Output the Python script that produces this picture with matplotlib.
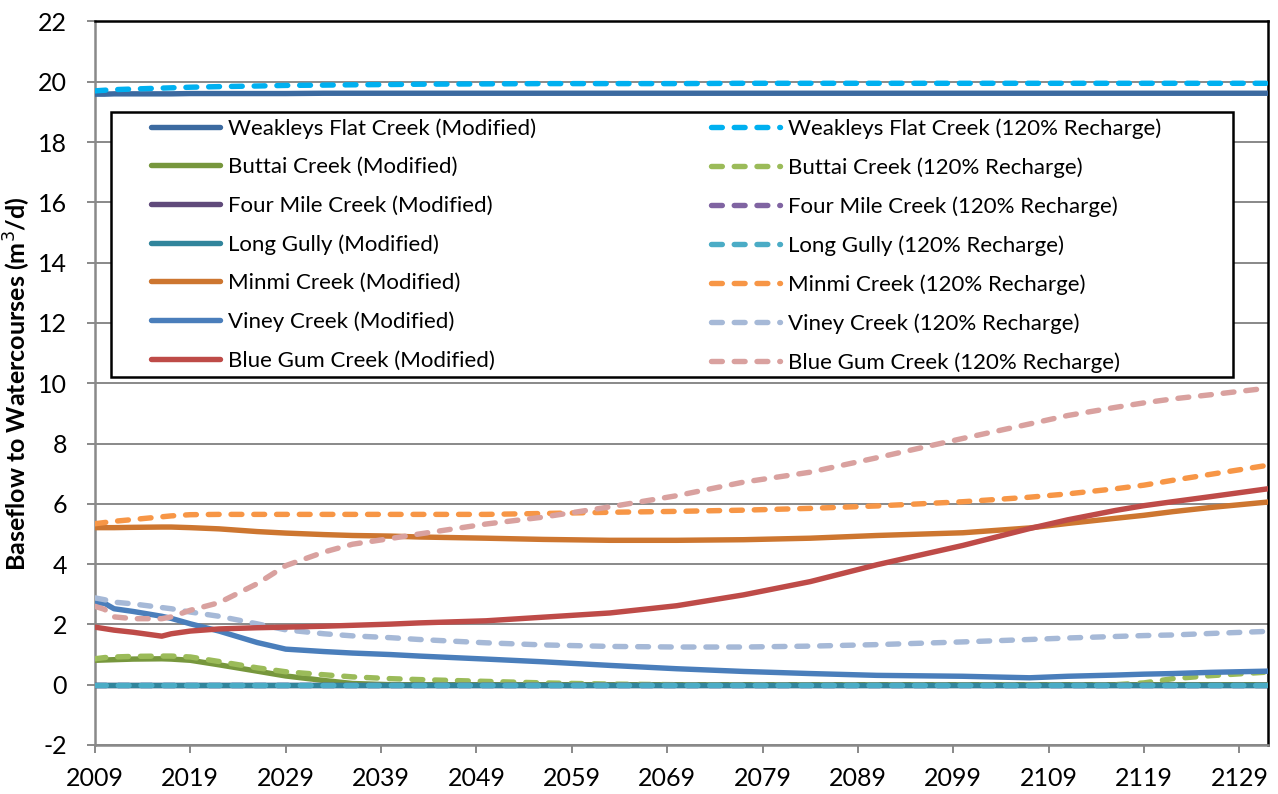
import matplotlib
matplotlib.use("Agg")
import matplotlib.pyplot as plt
from matplotlib.patches import Rectangle

plt.rcParams['font.family'] = ['Lato', 'DejaVu Sans']
plt.rcParams['axes.unicode_minus'] = False

years = [2009, 2010, 2011, 2013, 2016, 2017, 2019, 2022, 2026, 2029, 2033, 2036,
         2040, 2043, 2050, 2056, 2063, 2070, 2077, 2084, 2091, 2100, 2107, 2111,
         2116, 2119, 2122, 2126, 2132]

weakleys_mod = [19.59, 19.59, 19.60, 19.60, 19.60, 19.60, 19.61, 19.61, 19.61, 19.61,
                19.62, 19.62, 19.62, 19.62, 19.62, 19.62, 19.62, 19.62, 19.62, 19.62,
                19.62, 19.62, 19.62, 19.62, 19.62, 19.62, 19.62, 19.62, 19.62]
weakleys_120 = [19.70, 19.72, 19.74, 19.76, 19.79, 19.80, 19.82, 19.84, 19.86, 19.88,
                19.89, 19.90, 19.91, 19.92, 19.93, 19.94, 19.94, 19.94, 19.95, 19.95,
                19.95, 19.95, 19.95, 19.95, 19.95, 19.95, 19.95, 19.95, 19.95]
buttai_mod = [0.81, 0.82, 0.83, 0.85, 0.86, 0.85, 0.81, 0.66, 0.45, 0.29, 0.14, 0.04,
              0.0, 0.0, 0.0, 0.0, 0.0, 0.0, 0.0, 0.0, 0.0, 0.0, 0.0, 0.0,
              0.0, 0.0, 0.0, 0.0, 0.0]
buttai_120 = [0.86, 0.90, 0.92, 0.94, 0.95, 0.95, 0.92, 0.77, 0.56, 0.43, 0.33, 0.26,
              0.20, 0.17, 0.11, 0.06, 0.02, 0.0, 0.0, 0.0, 0.0, 0.0, 0.0, 0.0,
              0.0, 0.06, 0.20, 0.30, 0.42]
fourmile_mod = [0.0] * 29
fourmile_120 = [0.0] * 29
longgully_mod = [0.0] * 29
longgully_120 = [0.0] * 29
minmi_mod = [5.21, 5.21, 5.21, 5.22, 5.23, 5.23, 5.21, 5.17, 5.08, 5.03, 4.98, 4.95,
             4.93, 4.90, 4.86, 4.82, 4.79, 4.79, 4.81, 4.86, 4.95, 5.04, 5.20, 5.35,
             5.52, 5.62, 5.74, 5.88, 6.06]
minmi_120 = [5.34, 5.38, 5.42, 5.48, 5.57, 5.60, 5.64, 5.65, 5.65, 5.65, 5.65, 5.65,
             5.65, 5.65, 5.65, 5.68, 5.72, 5.75, 5.79, 5.85, 5.93, 6.07, 6.22, 6.33,
             6.50, 6.62, 6.78, 6.98, 7.28]
viney_mod = [2.72, 2.70, 2.52, 2.43, 2.27, 2.20, 2.02, 1.78, 1.40, 1.18, 1.10, 1.05,
             1.00, 0.95, 0.85, 0.76, 0.64, 0.53, 0.44, 0.37, 0.31, 0.28, 0.23, 0.28,
             0.32, 0.35, 0.37, 0.41, 0.45]
viney_120 = [2.88, 2.82, 2.74, 2.68, 2.56, 2.52, 2.41, 2.27, 2.02, 1.82, 1.69, 1.62,
             1.56, 1.50, 1.39, 1.32, 1.27, 1.25, 1.25, 1.28, 1.33, 1.42, 1.50, 1.55,
             1.60, 1.63, 1.65, 1.70, 1.77]
bluegum_mod = [1.91, 1.86, 1.81, 1.74, 1.61, 1.69, 1.78, 1.85, 1.89, 1.91, 1.94, 1.97,
               2.01, 2.05, 2.12, 2.24, 2.38, 2.62, 2.98, 3.42, 3.98, 4.62, 5.18, 5.47,
               5.78, 5.94, 6.07, 6.24, 6.50]
bluegum_120 = [2.60, 2.50, 2.25, 2.19, 2.19, 2.25, 2.47, 2.72, 3.35, 3.95, 4.40, 4.66,
               4.85, 5.00, 5.33, 5.56, 5.90, 6.27, 6.72, 7.05, 7.53, 8.17, 8.65, 8.93,
               9.20, 9.35, 9.48, 9.62, 9.84]

creeks = ["Weakleys Flat Creek", "Buttai Creek", "Four Mile Creek", "Long Gully",
          "Minmi Creek", "Viney Creek", "Blue Gum Creek"]
modified = [weakleys_mod, buttai_mod, fourmile_mod, longgully_mod,
            minmi_mod, viney_mod, bluegum_mod]
recharge = [weakleys_120, buttai_120, fourmile_120, longgully_120,
            minmi_120, viney_120, bluegum_120]
mod_colors = ["#3C6AA0", "#77973D", "#604A7B", "#31859C", "#CD7630", "#4A7EBB", "#BE4B48"]
rch_colors = ["#00B0F0", "#9BBB59", "#8064A2", "#4BACC6", "#F79646", "#A6B9D7", "#D9A19F"]

W, H = 1278, 794
fig = plt.figure(figsize=(W / 100, H / 100), dpi=100)
ax = fig.add_axes([95 / W, 1 - 745 / H, (1268 - 95) / W, (745 - 21.5) / H])

lw = 3.9
mod_handles, rch_handles = [], []
for name, m, r, cm, cr in zip(creeks, modified, recharge, mod_colors, rch_colors):
    h1, = ax.plot(years, m, color=cm, lw=lw, solid_capstyle='round',
                  solid_joinstyle='round', label=f"{name} (Modified)", zorder=3)
    h2, = ax.plot(years, r, color=cr, lw=lw, dashes=(2.0, 2.2),
                  dash_capstyle='round', dash_joinstyle='round',
                  label=f"{name} (120% Recharge)", zorder=3)
    mod_handles.append(h1)
    rch_handles.append(h2)

ax.set_xlim(2009, 2132)
ax.set_ylim(-2, 22)
ax.set_yticks(range(-2, 23, 2))
ax.set_xticks(range(2009, 2130, 10))
ax.grid(axis='y', color='#898989', lw=1.4, zorder=0)
ax.set_axisbelow(True)

for side in ('top', 'right'):
    ax.spines[side].set_color('black')
    ax.spines[side].set_linewidth(1.8)
for side in ('left', 'bottom'):
    ax.spines[side].set_color('#898989')
    ax.spines[side].set_linewidth(1.8)

ax.tick_params(axis='both', colors='#898989', width=1.4, labelcolor='black',
               labelsize=18, direction='out')
ax.tick_params(axis='y', length=6, pad=14)
ax.tick_params(axis='x', length=6, pad=10)

ax.set_ylabel("Baseflow to Watercourses (m$^3$/d)", fontsize=18, fontweight='bold')
ax.yaxis.set_label_coords((33 - 95) / (1268 - 95), 0.5)

# legend frame drawn as a figure-level box, entries placed inside it
frame = Rectangle((111 / W, 1 - 377 / H), (1233 - 111) / W, (377 - 112) / H,
                  transform=fig.transFigure, facecolor='white', edgecolor='black',
                  lw=1.8, zorder=4)
ax.add_artist(frame)
frame.set_clip_on(False)

leg = ax.legend(mod_handles + rch_handles,
                [h.get_label() for h in mod_handles + rch_handles],
                ncol=2, loc='upper left',
                bbox_to_anchor=(151 / W, 1 - 118 / H),
                bbox_transform=fig.transFigure, fontsize=16, frameon=False,
                borderpad=0, labelspacing=0.83, columnspacing=7.9,
                handlelength=3.1, handletextpad=0.35, borderaxespad=0)
leg.set_zorder(5)

fig.savefig("out.png", dpi=100, facecolor='white')
